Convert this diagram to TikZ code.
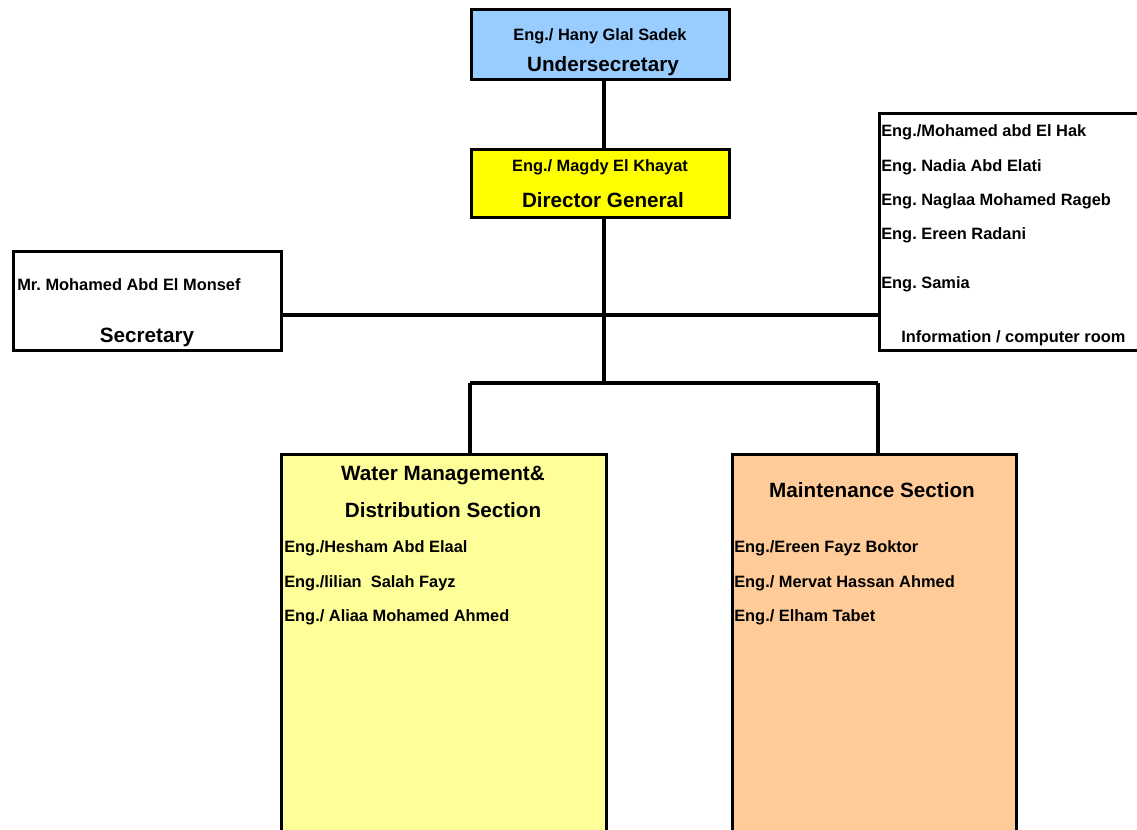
\documentclass[tikz,border=0pt]{standalone}
\usepackage{fontspec}
\setmainfont{Liberation Sans}
\frenchspacing
\definecolor{ublue}{HTML}{99CCFF}
\definecolor{dgyellow}{HTML}{FFFF00}
\definecolor{wyellow}{HTML}{FFFF99}
\definecolor{morange}{HTML}{FFCC99}
\begin{document}
\begin{tikzpicture}[x=0.75pt,y=-0.75pt,
  box/.style={draw=black,line width=2.6pt,rectangle,inner sep=0pt,anchor=north west},
  link/.style={draw=black,line width=2.6pt},
  sm/.style={font=\fontsize{12.3}{14}\selectfont\bfseries,inner sep=0pt},
  big/.style={font=\fontsize{15.5}{18}\selectfont\bfseries,inner sep=0pt}]
\useasboundingbox (0,0) rectangle (1137,830);
\clip (0,0) rectangle (1137,830);
% boxes
\node[box,fill=ublue,minimum width=258*0.75pt,minimum height=70*0.75pt] (us) at (470,8) {};
\node[box,fill=dgyellow,minimum width=258*0.75pt,minimum height=68*0.75pt] (dg) at (470,148) {};
\node[box,fill=white,minimum width=268*0.75pt,minimum height=99*0.75pt] (sec) at (12,250) {};
\node[box,fill=white,minimum width=270*0.75pt,minimum height=237*0.75pt] (info) at (878,112) {};
\node[box,fill=wyellow,minimum width=325*0.75pt,minimum height=420*0.75pt] (wm) at (280,453) {};
\node[box,fill=morange,minimum width=284*0.75pt,minimum height=420*0.75pt] (ms) at (731,453) {};
% junctions
\coordinate (jh) at (604,315);
\coordinate (jb) at (604,383);
\coordinate (jl) at (470,383);
\coordinate (jr) at (878,383);
% connectors
\draw[link] (us.south -| jh) -- (dg.north -| jh);
\draw[link] (dg.south -| jh) -- (jb);
\draw[link] (sec.east |- jh) -- (info.west |- jh);
\draw[link] (jl) -- (jr);
\draw[link] (jl) -- (wm.north -| jl);
\draw[link] (jr) -- (ms.north -| jr);
% texts
\node[sm] (t1) at (600,36) {Eng./ Hany Glal Sadek};
\node[big] (t2) at (603,66) {Undersecretary};
\node[sm] (t3) at (600,167) {Eng./ Magdy El Khayat};
\node[big] (t4) at (603,200) {Director General};
\node[sm,anchor=west] (t5) at (17,285) {Mr. Mohamed Abd El Monsef};
\node[big] (t6) at (147,337) {Secretary};
\node[sm,anchor=west] (r1) at (881,132) {Eng./Mohamed abd El Hak};
\node[sm,anchor=west] (r2) at (881,167) {Eng. Nadia Abd Elati};
\node[sm,anchor=west] (r3) at (881,201) {Eng. Naglaa Mohamed Rageb};
\node[sm,anchor=west] (r4) at (881,235) {Eng. Ereen Radani};
\node[sm,anchor=west] (r5) at (881,284) {Eng. Samia};
\node[sm,anchor=west] (r6) at (901,338) {Information / computer room};
\node[big] (w1) at (443,476) {Water Management\&};
\node[big] (w2) at (443,510) {Distribution Section};
\node[sm,anchor=west] (w3) at (284,548) {Eng./Hesham Abd Elaal};
\node[sm,anchor=west] (w4) at (284,583) {Eng./lilian\ \ Salah Fayz};
\node[sm,anchor=west] (w5) at (284,617) {Eng./ Aliaa Mohamed Ahmed};
\node[big] (m1) at (872,490) {Maintenance Section};
\node[sm,anchor=west] (m2) at (734,548) {Eng./Ereen Fayz Boktor};
\node[sm,anchor=west] (m3) at (734,583) {Eng./ Mervat Hassan Ahmed};
\node[sm,anchor=west] (m4) at (734,617) {Eng./ Elham Tabet};
\end{tikzpicture}
\end{document}
